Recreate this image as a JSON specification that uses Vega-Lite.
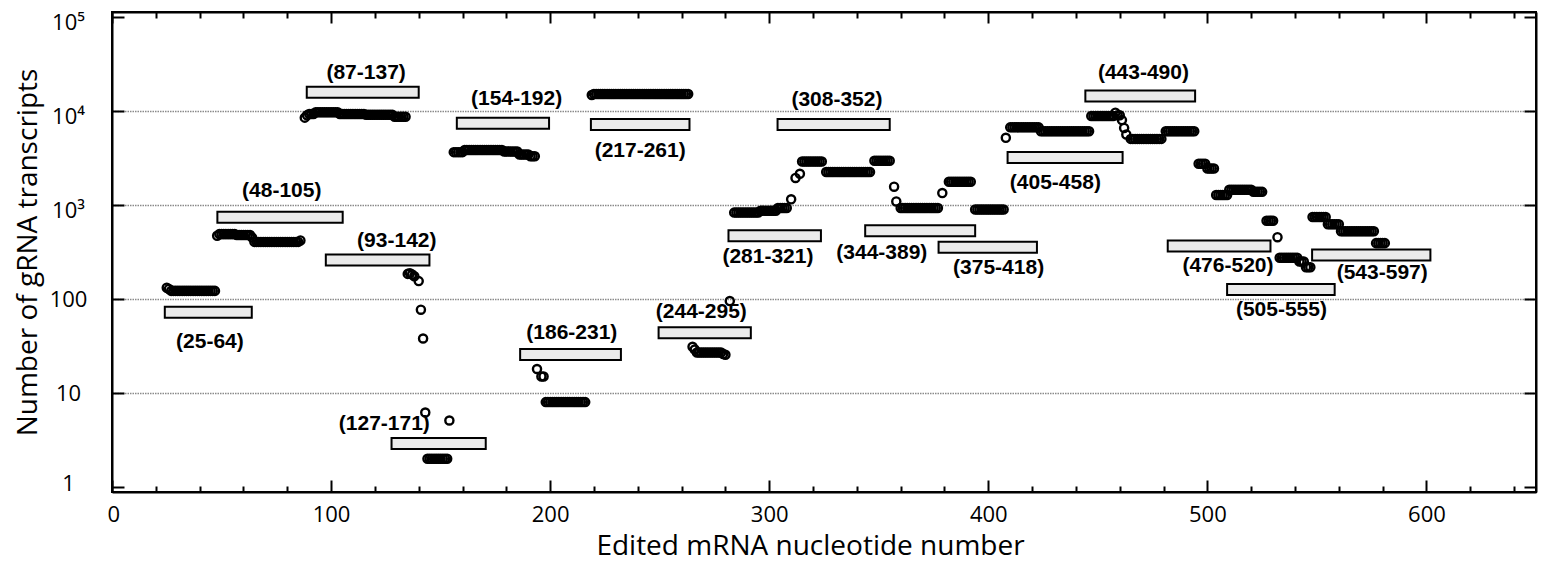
{
"$schema":"https://vega.github.io/schema/vega-lite/v6.json",
"width":1424,"height":480,
"autosize":{"type":"none"},
"padding":{"left":112,"top":12,"right":16,"bottom":76},
"background":"white",
"config":{"view":{"stroke":"black","strokeWidth":2}},
"datasets":{
"pts":[
{"n":25,"c":132},{"n":26,"c":128},{"n":27,"c":122},{"n":28,"c":122},{"n":29,"c":122},{"n":30,"c":122},{"n":31,"c":122},{"n":32,"c":122},{"n":33,"c":122},{"n":34,"c":122},{"n":35,"c":122},{"n":36,"c":122},{"n":37,"c":122},{"n":38,"c":122},{"n":39,"c":122},{"n":40,"c":122},{"n":41,"c":122},{"n":42,"c":122},{"n":43,"c":122},{"n":44,"c":122},{"n":45,"c":122},{"n":46,"c":122},{"n":47,"c":122},
{"n":48,"c":470},{"n":49,"c":490},{"n":50,"c":490},{"n":51,"c":490},{"n":52,"c":490},{"n":53,"c":490},{"n":54,"c":490},{"n":55,"c":490},{"n":56,"c":490},{"n":57,"c":480},{"n":58,"c":480},{"n":59,"c":480},{"n":60,"c":480},{"n":61,"c":480},{"n":62,"c":480},{"n":63,"c":480},{"n":64,"c":450},
{"n":65,"c":405},{"n":66,"c":405},{"n":67,"c":405},{"n":68,"c":405},{"n":69,"c":405},{"n":70,"c":405},{"n":71,"c":405},{"n":72,"c":405},{"n":73,"c":405},{"n":74,"c":405},{"n":75,"c":405},{"n":76,"c":405},{"n":77,"c":405},{"n":78,"c":405},{"n":79,"c":405},{"n":80,"c":405},{"n":81,"c":405},{"n":82,"c":405},{"n":83,"c":405},{"n":84,"c":405},{"n":85,"c":405},{"n":86,"c":420},
{"n":88,"c":8500},{"n":89,"c":9000},{"n":90,"c":9300},{"n":91,"c":9300},{"n":92,"c":9300},{"n":93,"c":9700},{"n":94,"c":9700},{"n":95,"c":9700},{"n":96,"c":9700},{"n":97,"c":9700},{"n":98,"c":9700},{"n":99,"c":9700},{"n":100,"c":9700},{"n":101,"c":9700},{"n":102,"c":9700},{"n":103,"c":9700},
{"n":104,"c":9300},{"n":105,"c":9300},{"n":106,"c":9300},{"n":107,"c":9300},{"n":108,"c":9300},{"n":109,"c":9300},{"n":110,"c":9300},{"n":111,"c":9300},{"n":112,"c":9300},{"n":113,"c":9300},{"n":114,"c":9300},{"n":115,"c":9300},
{"n":116,"c":9100},{"n":117,"c":9100},{"n":118,"c":9100},{"n":119,"c":9100},{"n":120,"c":9100},{"n":121,"c":9100},{"n":122,"c":9100},{"n":123,"c":9100},{"n":124,"c":9100},{"n":125,"c":9100},{"n":126,"c":9100},{"n":127,"c":9100},{"n":128,"c":9100},
{"n":129,"c":8700},{"n":130,"c":8700},{"n":131,"c":8700},{"n":132,"c":8700},{"n":133,"c":8700},{"n":134,"c":8700},
{"n":135,"c":185},{"n":136,"c":188},{"n":137,"c":182},{"n":138,"c":175},{"n":140,"c":155},{"n":141,"c":77},{"n":142,"c":38},{"n":143,"c":6.2},
{"n":144,"c":2},{"n":145,"c":2},{"n":146,"c":2},{"n":147,"c":2},{"n":148,"c":2},{"n":149,"c":2},{"n":150,"c":2},{"n":151,"c":2},{"n":152,"c":2},{"n":153,"c":2},{"n":154,"c":5.1},
{"n":156,"c":3650},{"n":157,"c":3650},{"n":158,"c":3650},{"n":159,"c":3650},{"n":160,"c":3650},
{"n":161,"c":3850},{"n":162,"c":3850},{"n":163,"c":3850},{"n":164,"c":3850},{"n":165,"c":3850},{"n":166,"c":3850},{"n":167,"c":3850},{"n":168,"c":3850},{"n":169,"c":3850},{"n":170,"c":3850},{"n":171,"c":3850},{"n":172,"c":3850},{"n":173,"c":3850},{"n":174,"c":3850},{"n":175,"c":3850},{"n":176,"c":3850},{"n":177,"c":3850},{"n":178,"c":3850},
{"n":179,"c":3700},{"n":180,"c":3700},{"n":181,"c":3700},{"n":182,"c":3700},{"n":183,"c":3700},{"n":184,"c":3700},{"n":185,"c":3700},
{"n":186,"c":3450},{"n":187,"c":3450},{"n":188,"c":3450},{"n":189,"c":3450},{"n":190,"c":3450},{"n":191,"c":3300},{"n":192,"c":3300},{"n":193,"c":3300},
{"n":194,"c":18},{"n":196,"c":15},{"n":197,"c":15},
{"n":198,"c":8},{"n":199,"c":8},{"n":200,"c":8},{"n":201,"c":8},{"n":202,"c":8},{"n":203,"c":8},{"n":204,"c":8},{"n":205,"c":8},{"n":206,"c":8},{"n":207,"c":8},{"n":208,"c":8},{"n":209,"c":8},{"n":210,"c":8},{"n":211,"c":8},{"n":212,"c":8},{"n":213,"c":8},{"n":214,"c":8},{"n":215,"c":8},{"n":216,"c":8},
{"n":219,"c":14800},{"n":220,"c":15200},{"n":221,"c":15200},{"n":222,"c":15200},{"n":223,"c":15200},{"n":224,"c":15200},{"n":225,"c":15200},{"n":226,"c":15200},{"n":227,"c":15200},{"n":228,"c":15200},{"n":229,"c":15200},{"n":230,"c":15200},{"n":231,"c":15200},{"n":232,"c":15200},{"n":233,"c":15200},{"n":234,"c":15200},{"n":235,"c":15200},{"n":236,"c":15200},{"n":237,"c":15200},{"n":238,"c":15200},{"n":239,"c":15200},{"n":240,"c":15200},{"n":241,"c":15200},{"n":242,"c":15200},{"n":243,"c":15200},{"n":244,"c":15200},{"n":245,"c":15200},{"n":246,"c":15200},{"n":247,"c":15200},{"n":248,"c":15200},{"n":249,"c":15200},{"n":250,"c":15200},{"n":251,"c":15200},{"n":252,"c":15200},{"n":253,"c":15200},{"n":254,"c":15200},{"n":255,"c":15200},{"n":256,"c":15200},{"n":257,"c":15200},{"n":258,"c":15200},{"n":259,"c":15200},{"n":260,"c":15200},{"n":261,"c":15200},{"n":262,"c":15200},{"n":263,"c":15200},
{"n":265,"c":31},{"n":266,"c":29},{"n":267,"c":27},{"n":268,"c":27},{"n":269,"c":27},{"n":270,"c":27},{"n":271,"c":27},{"n":272,"c":27},{"n":273,"c":27},{"n":274,"c":27},{"n":275,"c":27},{"n":276,"c":27},{"n":277,"c":27},{"n":278,"c":27},{"n":279,"c":26},{"n":280,"c":25.5},{"n":282,"c":95},
{"n":284,"c":830},{"n":285,"c":830},{"n":286,"c":830},{"n":287,"c":830},{"n":288,"c":830},{"n":289,"c":830},{"n":290,"c":830},{"n":291,"c":830},{"n":292,"c":830},{"n":293,"c":830},{"n":294,"c":830},{"n":295,"c":830},
{"n":296,"c":870},{"n":297,"c":870},{"n":298,"c":870},{"n":299,"c":870},{"n":300,"c":870},{"n":301,"c":870},{"n":302,"c":870},{"n":303,"c":870},{"n":304,"c":930},{"n":305,"c":930},{"n":306,"c":930},{"n":307,"c":930},{"n":308,"c":930},
{"n":310,"c":1150},{"n":312,"c":1940},{"n":314,"c":2150},
{"n":315,"c":2900},{"n":316,"c":2900},{"n":317,"c":2900},{"n":318,"c":2900},{"n":319,"c":2900},{"n":320,"c":2900},{"n":321,"c":2900},{"n":322,"c":2900},{"n":323,"c":2900},{"n":324,"c":2900},
{"n":326,"c":2240},{"n":327,"c":2240},{"n":328,"c":2240},{"n":329,"c":2240},{"n":330,"c":2240},{"n":331,"c":2240},{"n":332,"c":2240},{"n":333,"c":2240},{"n":334,"c":2240},{"n":335,"c":2240},{"n":336,"c":2240},{"n":337,"c":2240},{"n":338,"c":2240},{"n":339,"c":2240},{"n":340,"c":2240},{"n":341,"c":2240},{"n":342,"c":2240},{"n":343,"c":2240},{"n":344,"c":2240},{"n":345,"c":2240},{"n":346,"c":2240},
{"n":348,"c":2960},{"n":349,"c":2960},{"n":350,"c":2960},{"n":351,"c":2960},{"n":352,"c":2960},{"n":353,"c":2960},{"n":354,"c":2960},{"n":355,"c":2960},
{"n":357,"c":1566},{"n":358,"c":1090},
{"n":360,"c":930},{"n":361,"c":930},{"n":362,"c":930},{"n":363,"c":930},{"n":364,"c":930},{"n":365,"c":930},{"n":366,"c":930},{"n":367,"c":930},{"n":368,"c":930},{"n":369,"c":930},{"n":370,"c":930},{"n":371,"c":930},{"n":372,"c":930},{"n":373,"c":930},{"n":374,"c":930},{"n":375,"c":930},{"n":376,"c":930},{"n":377,"c":930},
{"n":379,"c":1340},
{"n":382,"c":1765},{"n":383,"c":1765},{"n":384,"c":1765},{"n":385,"c":1765},{"n":386,"c":1765},{"n":387,"c":1765},{"n":388,"c":1765},{"n":389,"c":1765},{"n":390,"c":1765},{"n":391,"c":1765},{"n":392,"c":1765},
{"n":394,"c":896},{"n":395,"c":896},{"n":396,"c":896},{"n":397,"c":896},{"n":398,"c":896},{"n":399,"c":896},{"n":400,"c":896},{"n":401,"c":896},{"n":402,"c":896},{"n":403,"c":896},{"n":404,"c":896},{"n":405,"c":896},{"n":406,"c":896},{"n":407,"c":896},
{"n":408,"c":5190},
{"n":410,"c":6700},{"n":411,"c":6700},{"n":412,"c":6700},{"n":413,"c":6700},{"n":414,"c":6700},{"n":415,"c":6700},{"n":416,"c":6700},{"n":417,"c":6700},{"n":418,"c":6700},{"n":419,"c":6700},{"n":420,"c":6700},{"n":421,"c":6700},{"n":422,"c":6700},{"n":423,"c":6700},
{"n":424,"c":6100},{"n":425,"c":6100},{"n":426,"c":6100},{"n":427,"c":6100},{"n":428,"c":6100},{"n":429,"c":6100},{"n":430,"c":6100},{"n":431,"c":6100},{"n":432,"c":6100},{"n":433,"c":6100},{"n":434,"c":6100},{"n":435,"c":6100},{"n":436,"c":6100},{"n":437,"c":6100},{"n":438,"c":6100},{"n":439,"c":6100},{"n":440,"c":6100},{"n":441,"c":6100},{"n":442,"c":6100},{"n":443,"c":6100},{"n":444,"c":6100},{"n":445,"c":6100},{"n":446,"c":6100},
{"n":447,"c":8850},{"n":448,"c":8850},{"n":449,"c":8850},{"n":450,"c":8850},{"n":451,"c":8850},{"n":452,"c":8850},{"n":453,"c":8850},{"n":454,"c":8850},{"n":455,"c":8850},{"n":456,"c":8850},{"n":457,"c":8850},{"n":458,"c":9600},{"n":459,"c":9000},{"n":460,"c":9000},
{"n":461,"c":8000},{"n":462,"c":6600},{"n":463,"c":5630},
{"n":465,"c":5050},{"n":466,"c":5050},{"n":467,"c":5050},{"n":468,"c":5050},{"n":469,"c":5050},{"n":470,"c":5050},{"n":471,"c":5050},{"n":472,"c":5050},{"n":473,"c":5050},{"n":474,"c":5050},{"n":475,"c":5050},{"n":476,"c":5050},{"n":477,"c":5050},{"n":478,"c":5050},{"n":479,"c":5050},
{"n":481,"c":6100},{"n":482,"c":6100},{"n":483,"c":6100},{"n":484,"c":6100},{"n":485,"c":6100},{"n":486,"c":6100},{"n":487,"c":6100},{"n":488,"c":6100},{"n":489,"c":6100},{"n":490,"c":6100},{"n":491,"c":6100},{"n":492,"c":6100},{"n":493,"c":6100},{"n":494,"c":6100},
{"n":496,"c":2750},{"n":497,"c":2750},{"n":498,"c":2750},{"n":499,"c":2750},{"n":500,"c":2450},{"n":501,"c":2450},{"n":502,"c":2450},{"n":503,"c":2450},
{"n":504,"c":1280},{"n":505,"c":1280},{"n":506,"c":1280},{"n":507,"c":1280},{"n":508,"c":1280},{"n":509,"c":1280},
{"n":510,"c":1450},{"n":511,"c":1450},{"n":512,"c":1450},{"n":513,"c":1450},{"n":514,"c":1450},{"n":515,"c":1450},{"n":516,"c":1450},{"n":517,"c":1450},{"n":518,"c":1450},{"n":519,"c":1450},{"n":520,"c":1450},{"n":521,"c":1380},{"n":522,"c":1380},{"n":523,"c":1380},{"n":524,"c":1380},{"n":525,"c":1380},
{"n":527,"c":680},{"n":528,"c":680},{"n":529,"c":680},{"n":530,"c":680},{"n":532,"c":454},
{"n":533,"c":275},{"n":534,"c":275},{"n":535,"c":275},{"n":536,"c":275},{"n":537,"c":275},{"n":538,"c":275},{"n":539,"c":275},{"n":540,"c":275},{"n":541,"c":275},{"n":542,"c":250},{"n":543,"c":250},{"n":544,"c":250},{"n":545,"c":218},{"n":546,"c":218},{"n":547,"c":218},
{"n":548,"c":745},{"n":549,"c":745},{"n":550,"c":745},{"n":551,"c":745},{"n":552,"c":745},{"n":553,"c":745},{"n":554,"c":745},
{"n":555,"c":625},{"n":556,"c":625},{"n":557,"c":625},{"n":558,"c":625},{"n":559,"c":625},{"n":560,"c":625},
{"n":561,"c":525},{"n":562,"c":525},{"n":563,"c":525},{"n":564,"c":525},{"n":565,"c":525},{"n":566,"c":525},{"n":567,"c":525},{"n":568,"c":525},{"n":569,"c":525},{"n":570,"c":525},{"n":571,"c":525},{"n":572,"c":525},{"n":573,"c":525},{"n":574,"c":525},{"n":575,"c":525},{"n":576,"c":525},
{"n":577,"c":393},{"n":578,"c":393},{"n":579,"c":393},{"n":580,"c":393},{"n":581,"c":393}
],
"boxes":[
{"s":24.1,"e":63.8,"v":72.5,"t":"(25-64)","lx":44.7,"ly":35.3},
{"s":48.1,"e":105.3,"v":740,"t":"(48-105)","lx":77.5,"ly":1422},
{"s":88.9,"e":140,"v":15850,"t":"(87-137)","lx":116,"ly":25200},
{"s":97.6,"e":144.9,"v":260,"t":"(93-142)","lx":130,"ly":412},
{"s":127.6,"e":170.6,"v":2.9,"t":"(127-171)","lx":124.3,"ly":4.71},
{"s":157.4,"e":199.5,"v":7430,"t":"(154-192)","lx":184.7,"ly":13530},
{"s":186.3,"e":232.3,"v":25.7,"t":"(186-231)","lx":209.9,"ly":43},
{"s":218.6,"e":263.6,"v":7170,"t":"(217-261)","lx":241.1,"ly":3770},
{"s":249.5,"e":291.6,"v":43.8,"t":"(244-295)","lx":269,"ly":72.4},
{"s":281.4,"e":323.6,"v":472,"t":"(281-321)","lx":299.4,"ly":277},
{"s":303.8,"e":355,"v":7170,"t":"(308-352)","lx":330.9,"ly":13200},
{"s":343.8,"e":394,"v":532,"t":"(344-389)","lx":351.4,"ly":309},
{"s":377.3,"e":422.2,"v":355,"t":"(375-418)","lx":404.7,"ly":213},
{"s":408.8,"e":461.3,"v":3210,"t":"(405-458)","lx":430.6,"ly":1694},
{"s":444.3,"e":494.4,"v":14430,"t":"(443-490)","lx":470.8,"ly":25200},
{"s":481.9,"e":528.8,"v":367,"t":"(476-520)","lx":509.4,"ly":225},
{"s":509,"e":558.1,"v":126,"t":"(505-555)","lx":533.8,"ly":76.4},
{"s":547.8,"e":601.8,"v":294,"t":"(543-597)","lx":579.8,"ly":189}
]
},
"layer":[
{"data":{"name":"boxes"},
 "mark":{"type":"bar","orient":"horizontal","height":11,"fill":"#ebebeb","stroke":"black","strokeWidth":2},
 "encoding":{
  "x":{"field":"s","type":"quantitative","scale":{"domain":[0,650],"nice":false,"zero":false},
   "axis":{"orient":"top","values":[0,20,40,60,80,100,120,140,160,180,200,220,240,260,280,300,320,340,360,380,400,420,440,460,480,500,520,540,560,580,600,620,640],
    "labels":false,"title":null,"grid":false,"domain":true,"domainColor":"black","domainWidth":2,
    "tickColor":"black","tickWidth":2,"tickSize":{"condition":{"test":"datum.value % 100 === 0","value":-11},"value":-6}}},
  "x2":{"field":"e"},
  "y":{"field":"v","type":"quantitative","scale":{"type":"log","domain":[1,100000],"nice":false},
   "axis":{"orient":"right","values":[1,10,100,1000,10000,100000],"labels":false,"title":null,"grid":false,"domain":true,"domainColor":"black","domainWidth":2,"tickColor":"black","tickWidth":2,"tickSize":-12}}
 }},
{"data":{"name":"boxes"},
 "mark":{"type":"text","font":"Liberation Sans","fontWeight":"bold","fontSize":21,"baseline":"middle","align":"center","color":"black"},
 "encoding":{
  "x":{"field":"lx","type":"quantitative","axis":null},
  "y":{"field":"ly","type":"quantitative","axis":null},
  "text":{"field":"t"}
 }},
{"data":{"name":"pts"},
 "mark":{"type":"point","shape":"circle","filled":false,"stroke":"black","strokeWidth":2.4,"size":66,"opacity":1},
 "encoding":{
  "x":{"field":"n","type":"quantitative",
   "axis":{"orient":"bottom","values":[0,20,40,60,80,100,120,140,160,180,200,220,240,260,280,300,320,340,360,380,400,420,440,460,480,500,520,540,560,580,600,620,640],
    "labelExpr":"datum.value % 100 === 0 ? datum.label : ''","grid":false,"domain":true,"domainColor":"black","domainWidth":2,
    "tickColor":"black","tickWidth":2,"tickSize":{"condition":{"test":"datum.value % 100 === 0","value":-12},"value":-6},
    "labelFont":"Open Sans","labelFontSize":22,"labelColor":"black","labelPadding":24,
    "labelOffset":{"condition":{"test":"datum.value === 0","value":-5},"value":0},
    "title":"Edited mRNA nucleotide number","titleFont":"Open Sans","titleFontSize":28,"titleFontWeight":"normal","titleColor":"black","titlePadding":7,"titleX":698}},
  "y":{"field":"c","type":"quantitative",
   "axis":{"orient":"left","values":[1,10,100,1000,10000,100000],
    "labelExpr":"datum.value < 5 ? '1' : datum.value < 50 ? '10' : datum.value < 500 ? '100' : datum.value < 5000 ? '10³' : datum.value < 50000 ? '10⁴' : '10⁵'",
    "grid":true,"gridColor":"#8a8a8a","gridDash":[1.5,1],"gridWidth":1.5,
    "gridOpacity":{"condition":{"test":"datum.value < 5 || datum.value > 50000","value":0},"value":1},
    "domain":true,"domainColor":"black","domainWidth":2,"tickColor":"black","tickWidth":2,"tickSize":-12,
    "labelFont":"Open Sans","labelFontSize":22,"labelColor":"black","labelAlign":"center","labelPadding":56,
    "labelOffset":{"condition":[{"test":"datum.value >= 1000","value":5},{"test":"datum.value < 5","value":-4}],"value":0},
    "title":"Number of gRNA transcripts","titleFont":"Open Sans","titleFontSize":28,"titleFontWeight":"normal","titleColor":"black","titlePadding":7}}
 }}
],
"resolve":{"axis":{"x":"independent","y":"independent"}}
}
